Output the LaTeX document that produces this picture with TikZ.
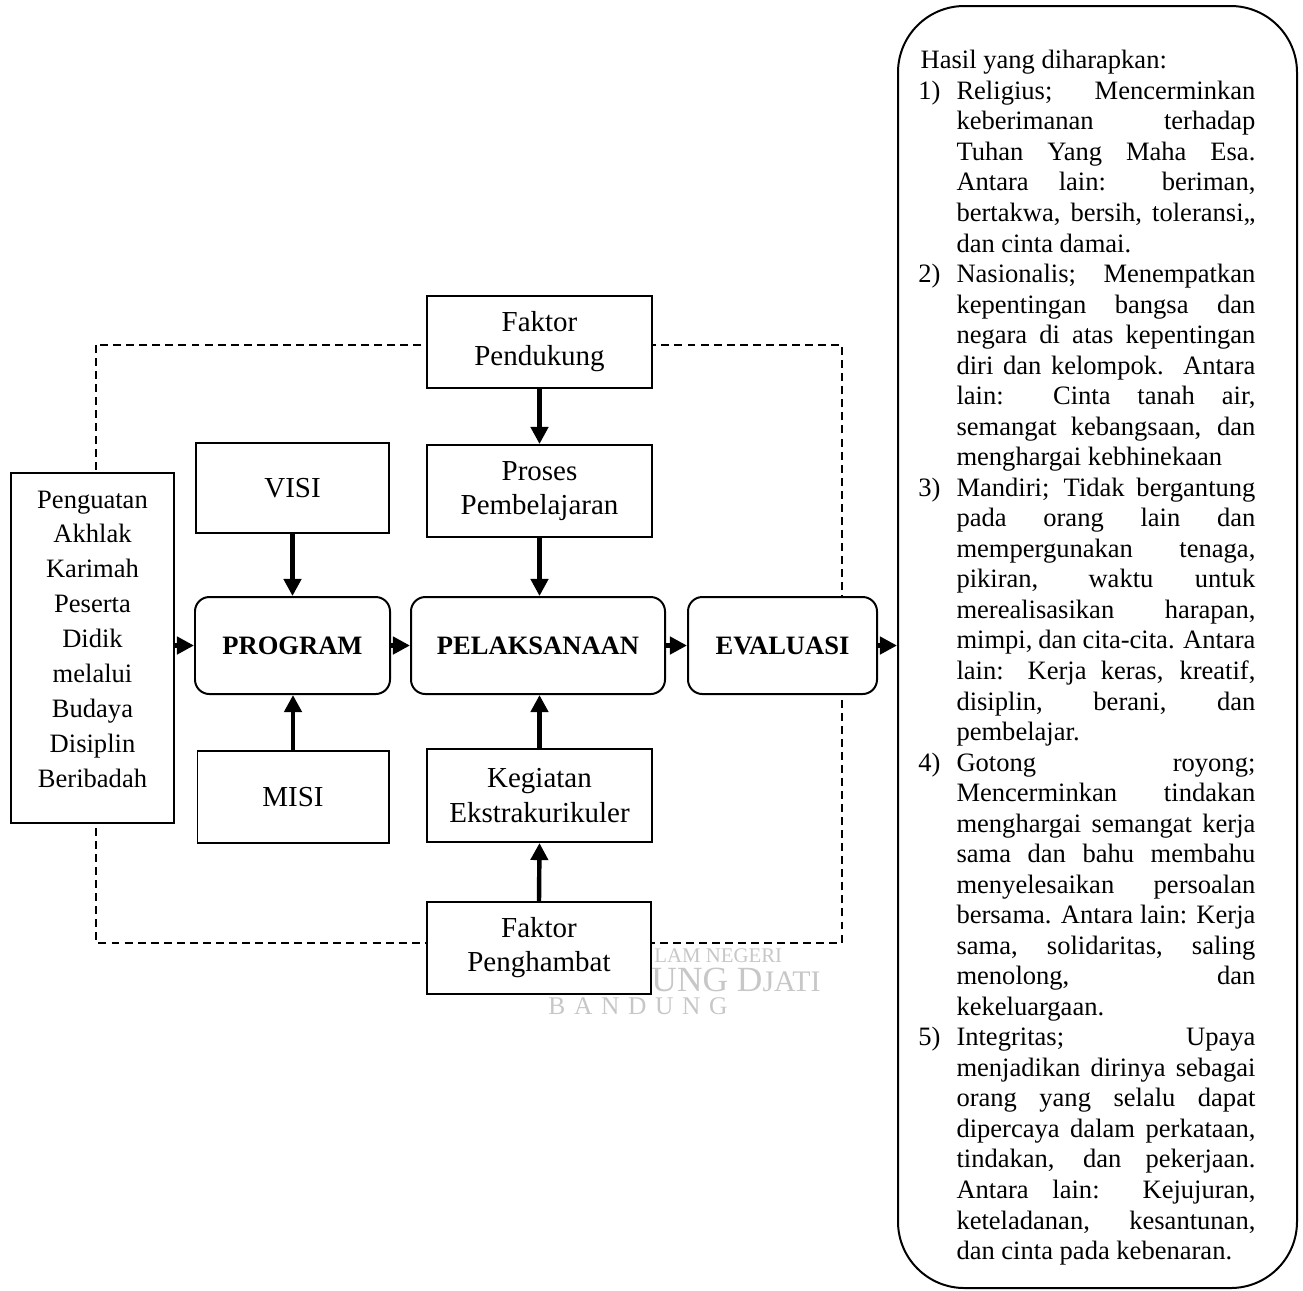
\documentclass[tikz,border=0pt]{standalone}
\usepackage{fontspec}
\setmainfont{Liberation Serif}
\usetikzlibrary{arrows.meta}
\newcommand\hitem[2]{\par\parshape 2 0pt \hsize 17.2pt \dimexpr\hsize-17.2pt\relax\noindent\makebox[17.2pt][l]{#1}#2\par}
\begin{document}
\begin{tikzpicture}[x=0.452pt,y=-0.452pt,
  box/.style={draw, fill=white, line width=0.9pt, inner sep=0pt, align=center,
    font=\fontsize{13.1}{15.4}\selectfont},
  rbox/.style={box, rounded corners=6.5pt, font=\fontsize{12}{15.4}\selectfont\bfseries},
  conn/.style={line width=2pt, -{Triangle[length=7.7pt,width=7.7pt]}},
  dframe/.style={line width=0.7pt, dash pattern=on 3.6pt off 2.3pt},
  wm/.style={text=black!22, inner sep=0pt, anchor=base west}]
\useasboundingbox (0,0) rectangle (1303,1290);
% dashed frame
\draw[dframe] (96,345) rectangle (842,943);
% faint watermark fragments
\node[wm, font=\fontsize{9.4}{11}\selectfont] (wm1) at (654,962) {LAM NEGERI};
\node[wm, font=\fontsize{16}{18}\selectfont] (wm2) at (651,991) {UNG D{\fontsize{13.5}{16}\selectfont JATI}};
\node[wm, font=\fontsize{11.5}{14}\selectfont] (wm3) at (548,1014) {B\hspace{3.9pt}A\hspace{3.9pt}N\hspace{3.9pt}D\hspace{3.9pt}U\hspace{3.9pt}N\hspace{3.9pt}G};
% left box
\node[box, minimum width=163*0.452pt, minimum height=350*0.452pt, text depth=8pt,
  font=\fontsize{12}{15.8}\selectfont] (pak) at (92.5,648)
  {Penguatan\\Akhlak\\Karimah\\Peserta\\Didik\\melalui\\Budaya\\Disiplin\\Beribadah};
% VISI / MISI
\node[box, minimum width=193*0.452pt, minimum height=90*0.452pt] (visi) at (292.5,488) {VISI};
\node[box, minimum width=191*0.452pt, minimum height=92*0.452pt] (misi) at (293,797) {MISI};
% main row
\node[rbox, minimum width=195*0.452pt, minimum height=97*0.452pt] (program) at (292.5,645.5) {PROGRAM};
\node[rbox, minimum width=254*0.452pt, minimum height=97*0.452pt] (pelaksanaan) at (538,645.5) {PELAKSANAAN};
\node[rbox, minimum width=189*0.452pt, minimum height=97*0.452pt] (evaluasi) at (782.5,645.5) {EVALUASI};
% middle column
\node[box, minimum width=225*0.452pt, minimum height=92*0.452pt] (pendukung) at (539.5,342) {Faktor\\Pendukung};
\node[box, minimum width=225*0.452pt, minimum height=92*0.452pt] (proses) at (539.5,491) {Proses\\Pembelajaran};
\node[box, minimum width=225*0.452pt, minimum height=93*0.452pt] (kegiatan) at (539.5,795.5) {Kegiatan\\Ekstrakurikuler};
\node[box, minimum width=224*0.452pt, minimum height=92*0.452pt] (penghambat) at (539,948) {Faktor\\Penghambat};
% right rounded box
\node[draw, line width=0.9pt, rounded corners=30pt, minimum width=399*0.452pt,
  minimum height=1282*0.452pt, inner sep=0pt] (hasilbox) at (1097.5,647) {};
\node[anchor=north west, inner sep=0pt, text width=152.3pt, align=justify,
  font=\fontsize{12}{13.8}\selectfont] (hasil) at (918,50) {%
\tolerance=10000 \hbadness=10000 \hyphenpenalty=10000 \exhyphenpenalty=10000
\noindent\hspace*{1pt}Hasil yang diharapkan:
\hitem{1)}{Religius; Mencerminkan\linebreak keberimanan terhadap\linebreak Tuhan Yang Maha Esa.\linebreak Antara lain: beriman,\linebreak bertakwa, bersih, toleransi,,\linebreak dan cinta damai.}
\hitem{2)}{Nasionalis; Menempatkan\linebreak kepentingan bangsa dan\linebreak negara di atas kepentingan\linebreak diri dan kelompok.\ \ Antara\linebreak lain: Cinta tanah air,\linebreak semangat kebangsaan, dan\linebreak menghargai kebhinekaan}
\hitem{3)}{Mandiri; Tidak bergantung\linebreak pada orang lain dan\linebreak mempergunakan tenaga,\linebreak pikiran, waktu untuk\linebreak merealisasikan harapan,\linebreak mimpi, dan cita-cita. Antara\linebreak lain: Kerja keras, kreatif,\linebreak disiplin, berani, dan\linebreak pembelajar.}
\hitem{4)}{Gotong royong;\linebreak Mencerminkan tindakan\linebreak menghargai semangat kerja\linebreak sama dan bahu membahu\linebreak menyelesaikan persoalan\linebreak bersama. Antara lain: Kerja\linebreak sama, solidaritas, saling\linebreak menolong, dan\linebreak kekeluargaan.}
\hitem{5)}{Integritas; Upaya\linebreak menjadikan dirinya sebagai\linebreak orang yang selalu dapat\linebreak dipercaya dalam perkataan,\linebreak tindakan, dan pekerjaan.\linebreak Antara lain: Kejujuran,\linebreak keteladanan, kesantunan,\linebreak dan cinta pada kebenaran.}
};
% connectors
\draw[conn] (pak.east |- program.west) -- (program.west);
\draw[conn] (program.east) -- (pelaksanaan.west);
\draw[conn] (pelaksanaan.east) -- (evaluasi.west);
\draw[conn] (evaluasi.east) -- (evaluasi.east -| hasilbox.west);
\draw[conn] (visi.south) -- (visi.south |- program.north);
\draw[conn] (misi.north) -- (misi.north |- program.south);
\draw[conn] (pendukung.south) -- (proses.north);
\draw[conn] (proses.south) -- (proses.south |- pelaksanaan.north);
\draw[conn] (penghambat.north) -- (kegiatan.south);
\draw[conn] (kegiatan.north) -- (kegiatan.north |- pelaksanaan.south);
\end{tikzpicture}
\end{document}
